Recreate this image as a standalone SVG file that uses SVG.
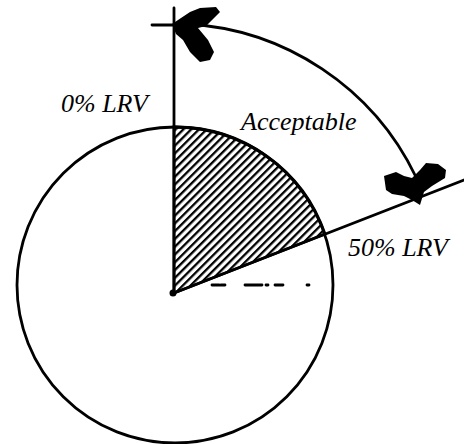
<svg xmlns="http://www.w3.org/2000/svg" width="464" height="444" viewBox="0 0 464 444">
  <style>
    .ln { fill: none; stroke: #000; stroke-width: 2.8; stroke-linecap: round; }
    .lbl { font-family: "Liberation Serif", "Times New Roman", serif; font-style: italic; font-size: 26px; fill: #000; }
    .blob { fill: #000; stroke: none; }
  </style>
  <defs>
    <pattern id="hatch" patternUnits="userSpaceOnUse" width="5.5" height="5.5" patternTransform="rotate(45)">
      <line x1="1" y1="0" x2="1" y2="5.5" stroke="#000" stroke-width="2.6"/>
    </pattern>
  </defs>
  <rect width="464" height="444" fill="#fff"/>

  <g id="sector">
    <path d="M174,293 L174,127 A158,158 0 0 1 325,234 Z" fill="url(#hatch)" stroke="#000" stroke-width="2.8"/>
  </g>

  <g id="circle">
    <circle cx="175" cy="285" r="158" class="ln"/>
  </g>

  <g id="connectors">
    <line x1="174" y1="293" x2="174" y2="8" class="ln" stroke-width="3.2"/>
    <line x1="152" y1="25" x2="174" y2="25" class="ln"/>
    <line x1="174" y1="293" x2="464" y2="180" class="ln"/>
    <path d="M212,285 h7 M221,285 h4 M245,285 h17 M266,285 h2 M275,285 h8 M307,285 h2" class="ln" stroke-width="2"/>
    <path d="M186,24 A270,270 0 0 1 416,177" class="ln"/>
    <circle cx="173" cy="293" r="3.5" fill="#000"/>
  </g>

  <g id="arrow-top">
    <polygon class="blob" points="172,24 190,12 200,8 216,7 220,12 206,26 198,28 208,40 214,52 210,60 200,62 190,52 183,40 176,34"/>
  </g>

  <g id="arrow-end">
    <polygon class="blob" points="384,176 396,172 404,176 412,178 420,170 426,163 438,164 446,170 445,178 432,186 424,192 420,205 412,200 404,196 392,194 386,190"/>
  </g>

  <g id="label-0">
    <text x="61" y="112" class="lbl">0% LRV</text>
  </g>
  <g id="label-acceptable">
    <text x="241" y="130" class="lbl">Acceptable</text>
  </g>
  <g id="label-50">
    <text x="348" y="256" class="lbl">50% LRV</text>
  </g>
</svg>
